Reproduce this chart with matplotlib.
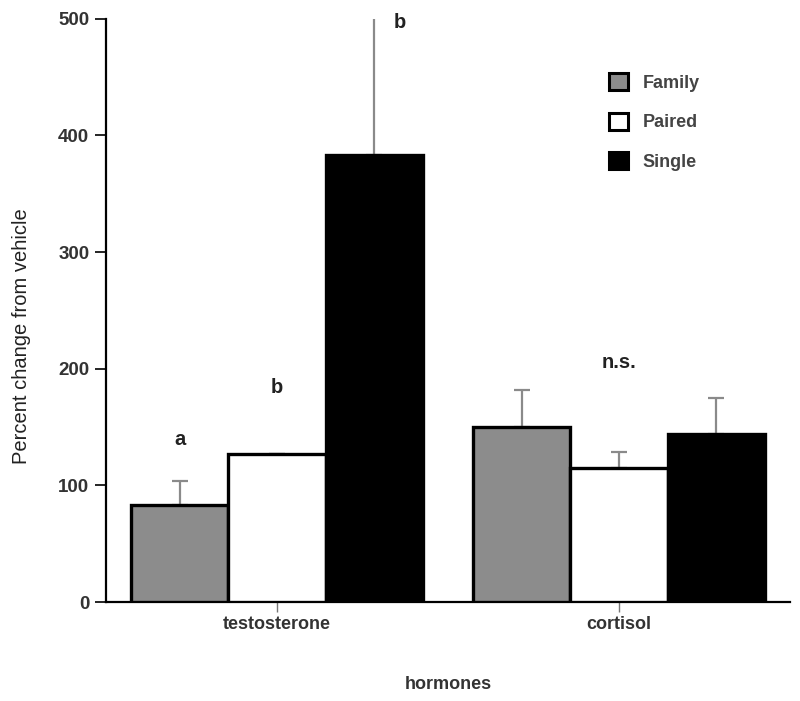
import numpy as np
import matplotlib
matplotlib.use("Agg")
from matplotlib import pyplot as plt
from matplotlib.patches import Patch

plt.rcParams['font.family'] = ['Liberation Sans', 'DejaVu Sans']

# data
hormones = ["testosterone", "cortisol"]
groups = ["Family", "Paired", "Single"]
means = {"Family": [83, 150], "Paired": [127, 115], "Single": [383, 144]}
errs = {"Family": [21, 32], "Paired": [0, 14], "Single": [140, 31]}
colors = {"Family": "#8c8c8c", "Paired": "white", "Single": "black"}

# significance letters: (hormone index, group, label, height)
letters = [(0, "Family", "a", 139), (0, "Paired", "b", 184),
           (0, "Single", "b", 497), (1, "Paired", "n.s.", 205)]

fig = plt.figure(figsize=(8, 7.01), dpi=100)
ax = fig.add_axes([0.1325, 0.1412, 0.855, 0.832])

x = np.arange(len(hormones))
w = 0.284
for i, g in enumerate(groups):
    pos = x + (i - 1) * w
    ax.bar(pos, means[g], width=w, color=colors[g], edgecolor="black",
           linewidth=2.4, zorder=3, label=g)
    ax.errorbar(pos, means[g], yerr=[np.zeros(len(x)), errs[g]], fmt="none",
                ecolor="#8a8a8a", elinewidth=1.6, capsize=6, capthick=1.6,
                zorder=2)

for hi, g, txt, h in letters:
    xp = x[hi] + (groups.index(g) - 1) * w
    if txt == "b" and g == "Single":
        xp += 0.075
    if txt == "n.s.":
        xp = x[hi]
    ax.text(xp, h, txt, ha="center", va="center", fontsize=14.5,
            fontweight="bold", color="#222222")

ax.set_xlim(-0.5, 1.5)
ax.set_ylim(0, 500)
ax.set_yticks([0, 100, 200, 300, 400, 500])
ax.set_xticks(x)
ax.set_xticklabels(hormones)
for s in ["top", "right"]:
    ax.spines[s].set_visible(False)
ax.spines["left"].set_linewidth(1.6)
ax.spines["bottom"].set_linewidth(1.6)
ax.tick_params(axis="y", direction="out", length=8, width=1.2, pad=4,
               labelsize=13.5, labelcolor="#333333")
ax.tick_params(axis="x", direction="out", length=7, width=1, pad=3,
               labelsize=13, labelcolor="#333333", color="#777777")
for lab in ax.get_xticklabels() + ax.get_yticklabels():
    lab.set_fontweight("bold")

ax.set_ylabel("Percent change from vehicle", fontsize=14.5, color="#222222")
ax.yaxis.set_label_coords(-0.11, 0.456)
ax.set_xlabel("hormones", fontsize=13, fontweight="bold", color="#333333",
              labelpad=31)

handles = [Patch(facecolor=colors[g], edgecolor="black", linewidth=2.2, label=g)
           for g in groups]
leg = ax.legend(handles=handles, loc="upper left", bbox_to_anchor=(0.711, 0.935),
                frameon=False, handlelength=1.1, handleheight=1.1,
                labelspacing=1.15, handletextpad=0.8, fontsize=13)
for t in leg.get_texts():
    t.set_fontweight("bold")
    t.set_color("#444444")

fig.savefig("out.png", dpi=100)
